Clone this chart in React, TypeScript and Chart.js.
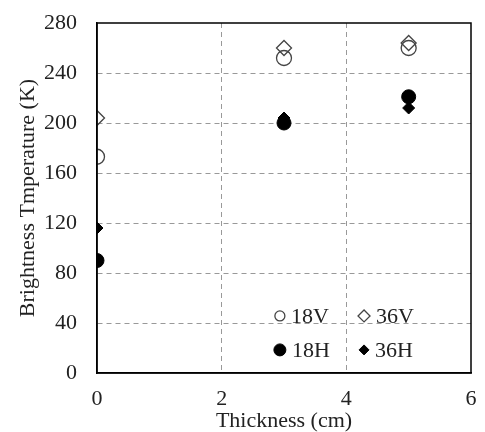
import React, { useEffect, useRef } from "react";
import { Chart, registerables } from "chart.js";
import { drawPoint } from "chart.js/helpers";

Chart.register(...registerables);

const thickness = [0, 3, 5];
const tb18V = [173, 252, 260];
const tb36V = [204, 260, 264];
const tb18H = [90, 200, 221];
const tb36H = [116, 204, 212];
const xTicks = [0, 2, 4, 6];
const yTicks = [0, 40, 80, 120, 160, 200, 240, 280];

const FONT = "'Liberation Serif', 'Times New Roman', serif";

const frame = {
  id: "frame",
  afterDraw(chart: any) {
    const { ctx, chartArea: a } = chart;
    ctx.save();
    ctx.strokeStyle = "#000";
    ctx.lineWidth = 1.5;
    ctx.strokeRect(a.left, a.top, a.right - a.left, a.bottom - a.top);
    ctx.restore();
  },
};

const gridLegend = {
  id: "gridLegend",
  afterDraw(chart: any) {
    const { ctx, chartArea: a } = chart;
    const w = a.right - a.left;
    const h = a.bottom - a.top;
    const cols = [0.489, 0.714];
    const rows = [0.837, 0.934];
    const sizes = [5, 6, 6, 5];
    ctx.save();
    ctx.font = `22px ${FONT}`;
    ctx.textBaseline = "middle";
    ctx.textAlign = "left";
    chart.data.datasets.forEach((ds: any, i: number) => {
      const x = a.left + w * cols[i % 2];
      const y = a.top + h * rows[Math.floor(i / 2)];
      ctx.save();
      ctx.strokeStyle = ds.borderColor;
      ctx.fillStyle = ds.backgroundColor;
      ctx.lineWidth = ds.borderWidth;
      drawPoint(ctx, { pointStyle: ds.pointStyle, radius: sizes[i], rotation: 0, borderWidth: ds.borderWidth }, x, y);
      ctx.restore();
      ctx.fillStyle = "#222";
      ctx.fillText(ds.label, x + sizes[i] + 6, y + 1);
    });
    ctx.restore();
  },
};

export default function App() {
  const ref = useRef<HTMLCanvasElement>(null);
  useEffect(() => {
    document.body.style.margin = "0";
    const mk = (vals: number[]) => thickness.map((t, i) => ({ x: t, y: vals[i] }));
    const chart = new Chart(ref.current!, {
      type: "scatter",
      data: {
        datasets: [
          { label: "18V", data: mk(tb18V), pointStyle: "circle", pointRadius: 7.5, borderColor: "#444", backgroundColor: "rgba(0,0,0,0)", borderWidth: 1.3 },
          { label: "36V", data: mk(tb36V), pointStyle: "rectRot", pointRadius: 7.5, borderColor: "#444", backgroundColor: "rgba(0,0,0,0)", borderWidth: 1.3 },
          { label: "18H", data: mk(tb18H), pointStyle: "circle", pointRadius: 7, borderColor: "#000", backgroundColor: "#000", borderWidth: 1 },
          { label: "36H", data: mk(tb36H), pointStyle: "rectRot", pointRadius: 6, borderColor: "#000", backgroundColor: "#000", borderWidth: 1 },
        ] as any,
      },
      options: {
        animation: false,
        responsive: false,
        layout: { padding: { top: 23, right: 14, left: 0, bottom: 0 } },
        plugins: { legend: { display: false }, tooltip: { enabled: false } },
        scales: {
          x: {
            type: "linear",
            min: 0,
            max: 6,
            afterFit: (s: any) => { s.height = 59; s.paddingLeft = 0; s.paddingRight = 0; },
            afterBuildTicks: (s: any) => { s.ticks = xTicks.map((v) => ({ value: v })); },
            ticks: { font: { family: FONT, size: 22 }, color: "#222", padding: 13 },
            grid: {
              drawTicks: false,
              color: (c: any) => (c.tick && (c.tick.value === 0 || c.tick.value === 6) ? "rgba(0,0,0,0)" : "#999"),
              lineWidth: 1,
            },
            border: { color: "#000", width: 1.5, dash: [5, 4] },
            title: { display: true, text: "Thickness (cm)", font: { family: FONT, size: 22 }, color: "#222", padding: { top: 0, bottom: -2 } },
          },
          y: {
            type: "linear",
            min: 0,
            max: 280,
            afterFit: (s: any) => { s.width = 97; s.paddingTop = 0; s.paddingBottom = 0; },
            afterBuildTicks: (s: any) => { s.ticks = yTicks.map((v) => ({ value: v })); },
            ticks: { font: { family: FONT, size: 22 }, color: "#222", padding: 20 },
            grid: {
              drawTicks: false,
              color: (c: any) => (c.tick && (c.tick.value === 0 || c.tick.value === 280) ? "rgba(0,0,0,0)" : "#999"),
              lineWidth: 1,
            },
            border: { color: "#000", width: 1.5, dash: [5, 4] },
            title: { display: true, text: "Brightness Tmperature (K)", font: { family: FONT, size: 22 }, color: "#222", padding: { top: 15, bottom: 0 } },
          },
        },
      },
      plugins: [frame, gridLegend],
    });
    return () => chart.destroy();
  }, []);
  return <canvas ref={ref} width={485} height={432} />;
}
